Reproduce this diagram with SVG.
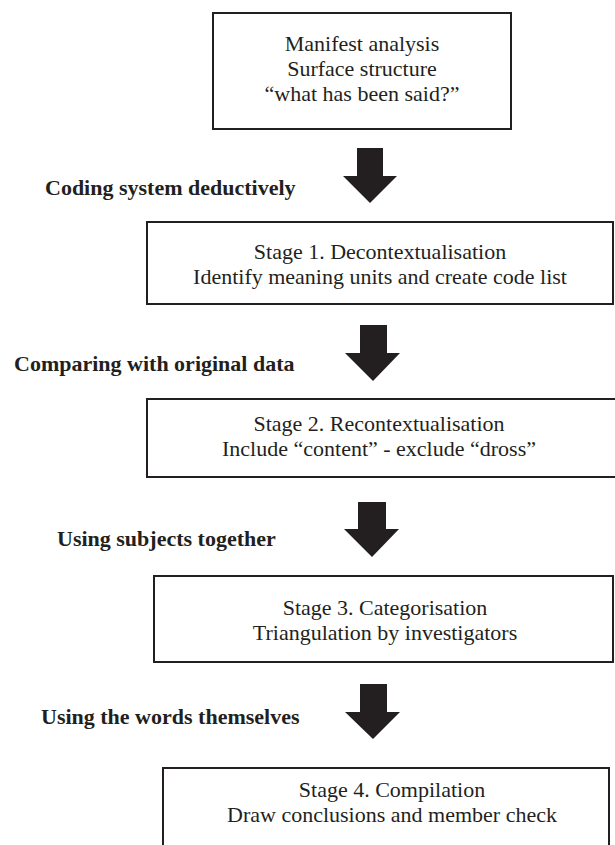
<svg xmlns="http://www.w3.org/2000/svg" width="615" height="845" viewBox="0 0 615 845">
<style>
.box{fill:#fff;stroke:#231f20;stroke-width:2}
.t{font-family:"Liberation Serif","Times New Roman",serif;font-size:22px;fill:#231f20;text-anchor:middle}
.lb{font-family:"Liberation Serif","Times New Roman",serif;font-size:22px;font-weight:bold;fill:#231f20}
.arr{fill:#231f20}
</style>
<rect width="615" height="845" fill="#fff"/>
<g id="connectors">
<polygon class="arr" points="357,148 383,148 383,176 397,176 370,203 343,176 357,176"/>
<polygon class="arr" points="360,325 387,325 387,353 400,353 373,381 345,353 360,353"/>
<polygon class="arr" points="358,502 386,502 386,529 399,529 372,557 344,529 358,529"/>
<polygon class="arr" points="360,684 387,684 387,712 400,712 373,739 345,712 360,712"/>
<text class="lb" x="45" y="195">Coding system deductively</text>
<text class="lb" x="14" y="371">Comparing with original data</text>
<text class="lb" x="57" y="546">Using subjects together</text>
<text class="lb" x="41" y="724">Using the words themselves</text>
</g>
<g id="manifest">
<rect class="box" x="213" y="13" width="298" height="116"/>
<text class="t" x="362" y="51">Manifest analysis</text>
<text class="t" x="362" y="76">Surface structure</text>
<text class="t" x="362" y="101">“what has been said?”</text>
</g>
<g id="stage1">
<rect class="box" x="147" y="222" width="466" height="82"/>
<text class="t" x="380" y="259">Stage 1. Decontextualisation</text>
<text class="t" x="380" y="284">Identify meaning units and create code list</text>
</g>
<g id="stage2">
<rect class="box" x="147" y="399" width="480" height="78"/>
<text class="t" x="379" y="431">Stage 2. Recontextualisation</text>
<text class="t" x="379" y="456">Include “content” - exclude “dross”</text>
</g>
<g id="stage3">
<rect class="box" x="154" y="576" width="459" height="86"/>
<text class="t" x="385" y="615">Stage 3. Categorisation</text>
<text class="t" x="385" y="640">Triangulation by investigators</text>
</g>
<g id="stage4">
<rect class="box" x="163" y="768" width="446" height="90"/>
<text class="t" x="392" y="797">Stage 4. Compilation</text>
<text class="t" x="392" y="822">Draw conclusions and member check</text>
</g>
</svg>
